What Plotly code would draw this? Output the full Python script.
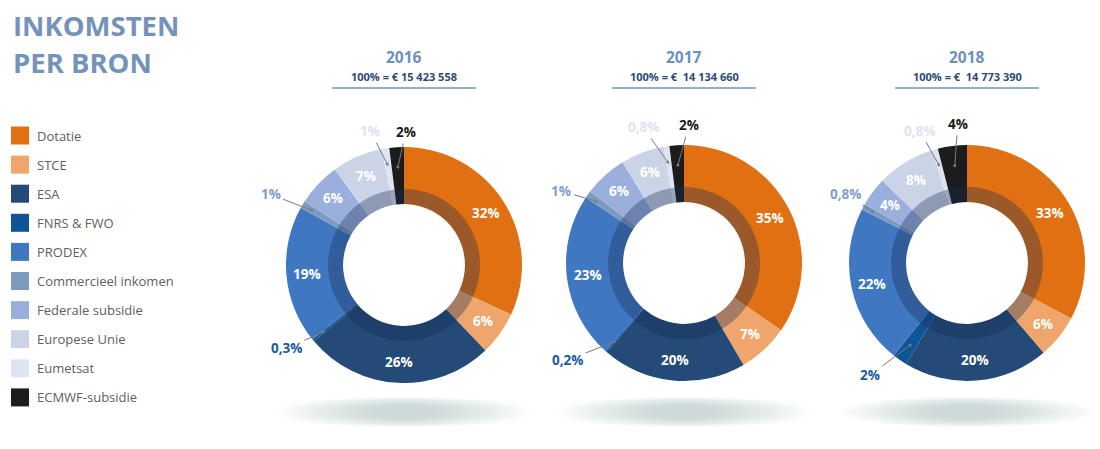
import math
import plotly.graph_objects as go

# ---------------- data ----------------
categories = ["Dotatie", "STCE", "ESA", "FNRS & FWO", "PRODEX",
              "Commercieel inkomen", "Federale subsidie", "Europese Unie",
              "Eumetsat", "ECMWF-subsidie"]
years = ["2016", "2017", "2018"]
totals = ["100% = € 15 423 558",
          "100% = €\u00a0 14 134 660",
          "100% = €\u00a0 14 773 390"]

values_2016 = [32, 6, 26, 0.3, 19, 1, 6, 7, 1, 2]
values_2017 = [35, 7, 20, 0.2, 23, 1, 6, 6, 0.8, 2]
values_2018 = [33, 6, 20, 2, 22, 0.8, 4, 8, 0.8, 4]

labels_2016 = ["32%", "6%", "26%", "0,3%", "19%", "1%", "6%", "7%", "1%", "2%"]
labels_2017 = ["35%", "7%", "20%", "0,2%", "23%", "1%", "6%", "6%", "0,8%", "2%"]
labels_2018 = ["33%", "6%", "20%", "2%", "22%", "0,8%", "4%", "8%", "0,8%", "4%"]

# ---------------- styles / layout ----------------
colors = ["#e07012", "#eea66c", "#244a77", "#0e5499", "#3f78c0",
          "#7b9bbf", "#9aafdb", "#cbd4e6", "#dfe4f4", "#1c1c1c"]
outside_text_colors = {3: "#1a5a9e", 5: "#7f9ec9", 8: "#dde3f3", 9: "#1a1a1a"}
outside_arrowhead = {3: 6, 5: 2, 8: 2, 9: 6}

W, H = 1100, 449
FONT = "Open Sans"
centers = [(404, 265), (684, 263), (967, 263)]
R_OUT, R_BAND, R_HOLE = 118, 76, 61
R_TEXT = 97

# per-year outside label layout: idx -> (tip radius, text dx, text dy) in px
outside_layout = [
    {3: (105, -37, 16), 5: (105, -43, -17), 8: (100, -18, -35), 9: (98, 8, -35)},
    {3: (105, -47, 18), 5: (105, -37, -11), 8: (100, -26, -37), 9: (98, 11, -40)},
    {3: (100, -40, 30), 5: (105, -29, -19), 8: (100, -20, -36), 9: (98, 3, -42)},
]

all_values = [values_2016, values_2017, values_2018]
all_labels = [labels_2016, labels_2017, labels_2018]


def px(x):
    return x / W


def py(y):
    return 1 - y / H


def domain(cx, cy, r):
    return dict(x=[px(cx - r), px(cx + r)], y=[py(cy + r), py(cy - r)])


fig = go.Figure()
annotations = []
shapes = []

for k, (cx, cy) in enumerate(centers):
    vals = all_values[k]
    labs = all_labels[k]
    # shadow ellipse (stacked soft layers)
    sy = 412
    n = 14
    for i in range(n):
        f = 1 - 0.75 * i / (n - 1)
        rx, ry = 127 * f, 15.5 * f ** 0.6
        shapes.append(dict(type="circle", xref="paper", yref="paper",
                           x0=px(cx - rx), x1=px(cx + rx),
                           y0=py(sy + ry), y1=py(sy - ry),
                           fillcolor="rgb(150,162,162)", opacity=0.035,
                           line=dict(width=0), layer="below"))
    # main donut
    fig.add_trace(go.Pie(
        values=vals, labels=categories, sort=False, direction="clockwise",
        rotation=0, hole=R_HOLE / R_OUT, domain=domain(cx, cy, R_OUT),
        marker=dict(colors=colors, line=dict(width=0)),
        textinfo="none", hoverinfo="label+percent", showlegend=False))
    # inner shadow band
    fig.add_trace(go.Pie(
        values=[1], labels=["band"], sort=False, hole=R_HOLE / R_BAND,
        domain=domain(cx, cy, R_BAND),
        marker=dict(colors=["rgba(22,45,85,0.34)"], line=dict(width=0)),
        textinfo="none", hoverinfo="skip", showlegend=False))

    total = sum(vals)
    cum = 0
    for i, v in enumerate(vals):
        mid = (cum + v / 2) / total * 2 * math.pi
        cum += v
        if i in outside_layout[k]:
            rt, dx, dy = outside_layout[k][i]
            tx = cx + rt * math.sin(mid)
            ty = cy - rt * math.cos(mid)
            annotations.append(dict(
                x=px(tx), y=py(ty), xref="paper", yref="paper",
                text="<b>%s</b>" % labs[i], showarrow=True,
                ax=dx, ay=dy, axref="pixel", ayref="pixel",
                arrowhead=outside_arrowhead[i], arrowsize=0.7, arrowwidth=1,
                arrowcolor="#7a7a7a", standoff=0, startstandoff=1,
                font=dict(family=FONT, size=13.5, color=outside_text_colors[i])))
        else:
            tx = cx + R_TEXT * math.sin(mid)
            ty = cy - R_TEXT * math.cos(mid)
            annotations.append(dict(
                x=px(tx), y=py(ty), xref="paper", yref="paper",
                text="<b>%s</b>" % labs[i], showarrow=False,
                xanchor="center", yanchor="middle",
                font=dict(family=FONT, size=13.5, color="white")))

    # headers
    annotations.append(dict(x=px(cx), y=py(57), xref="paper", yref="paper",
                            text="<b>%s</b>" % years[k], showarrow=False,
                            xanchor="center", yanchor="middle",
                            font=dict(family=FONT, size=15.5, color="#6d90bc")))
    annotations.append(dict(x=px(cx), y=py(76), xref="paper", yref="paper",
                            text="<b>%s</b>" % totals[k], showarrow=False,
                            xanchor="center", yanchor="middle",
                            font=dict(family=FONT, size=11, color="#2c4a75")))
    shapes.append(dict(type="line", xref="paper", yref="paper",
                       x0=px(cx - 72), x1=px(cx + 72), y0=py(88), y1=py(88),
                       line=dict(color="#7393bb", width=1.5)))

# title
annotations.append(dict(x=px(11), y=py(25), xref="paper", yref="paper",
                        text="<b>INKOMSTEN</b>", showarrow=False,
                        xanchor="left", yanchor="middle",
                        font=dict(family=FONT, size=27.5, color="#7393bb")))
annotations.append(dict(x=px(11), y=py(63), xref="paper", yref="paper",
                        text="<b>PER BRON</b>", showarrow=False,
                        xanchor="left", yanchor="middle",
                        font=dict(family=FONT, size=27.5, color="#7393bb")))

# legend (manual)
for i, name in enumerate(categories):
    yc = 135.5 + i * 29.1
    shapes.append(dict(type="rect", xref="paper", yref="paper",
                       x0=px(11), x1=px(29), y0=py(yc + 9), y1=py(yc - 9),
                       fillcolor=colors[i], line=dict(width=0)))
    annotations.append(dict(x=px(35), y=py(yc), xref="paper", yref="paper",
                            text=name, showarrow=False,
                            xanchor="left", yanchor="middle",
                            font=dict(family=FONT, size=13, color="#606060")))

fig.update_layout(width=W, height=H, margin=dict(l=0, r=0, t=0, b=0),
                  paper_bgcolor="white", plot_bgcolor="white",
                  annotations=annotations, shapes=shapes, showlegend=False)

fig.write_html("out.html")
